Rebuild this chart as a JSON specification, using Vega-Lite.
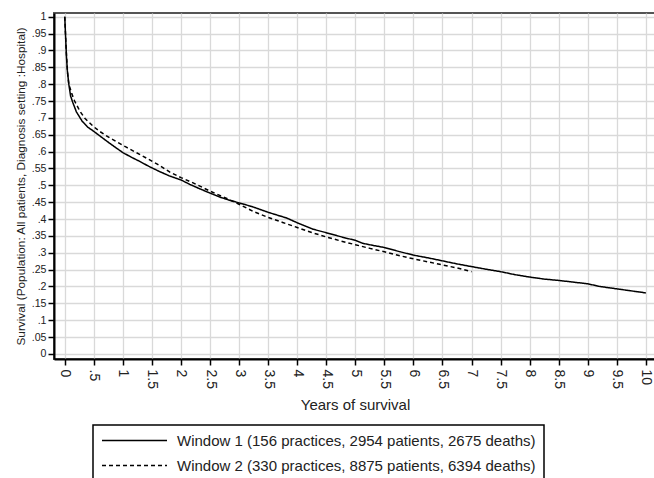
{
  "$schema": "https://vega.github.io/schema/vega-lite/v6.json",
  "autosize": {"type": "none"},
  "padding": {"left": 54, "top": 13, "right": 0, "bottom": 119},
  "width": 602,
  "height": 346,
  "background": "white",
  "config": {
    "font": "Liberation Sans",
    "view": {"stroke": "#555555", "strokeWidth": 2},
    "axis": {
      "domainColor": "black", "domainWidth": 2,
      "tickColor": "black", "tickWidth": 1.5, "tickSize": 6,
      "gridColor": "#d9d9d9", "gridWidth": 1.3,
      "labelColor": "#222222", "titleColor": "#222222",
      "labelFont": "Liberation Sans", "titleFont": "Liberation Sans",
      "titleFontWeight": "normal"
    },
    "legend": {"strokeWidth": 1.5}
  },
  "data": {"values": [
    {"t":0,"s":1,"series":"W1"},{"t":0.01,"s":0.96,"series":"W1"},{"t":0.02,"s":0.92,"series":"W1"},{"t":0.03,"s":0.88,"series":"W1"},{"t":0.045,"s":0.84,"series":"W1"},{"t":0.07,"s":0.80,"series":"W1"},{"t":0.1,"s":0.765,"series":"W1"},{"t":0.14,"s":0.745,"series":"W1"},{"t":0.2,"s":0.718,"series":"W1"},{"t":0.3,"s":0.69,"series":"W1"},{"t":0.4,"s":0.672,"series":"W1"},{"t":0.5,"s":0.66,"series":"W1"},{"t":0.6,"s":0.647,"series":"W1"},{"t":0.77,"s":0.625,"series":"W1"},{"t":1.0,"s":0.597,"series":"W1"},{"t":1.15,"s":0.583,"series":"W1"},{"t":1.29,"s":0.571,"series":"W1"},{"t":1.45,"s":0.556,"series":"W1"},{"t":1.63,"s":0.541,"series":"W1"},{"t":1.8,"s":0.528,"series":"W1"},{"t":2.0,"s":0.516,"series":"W1"},{"t":2.15,"s":0.503,"series":"W1"},{"t":2.32,"s":0.49,"series":"W1"},{"t":2.5,"s":0.477,"series":"W1"},{"t":2.67,"s":0.465,"series":"W1"},{"t":2.85,"s":0.455,"series":"W1"},{"t":3.0,"s":0.448,"series":"W1"},{"t":3.24,"s":0.436,"series":"W1"},{"t":3.5,"s":0.42,"series":"W1"},{"t":3.82,"s":0.403,"series":"W1"},{"t":4.0,"s":0.389,"series":"W1"},{"t":4.27,"s":0.37,"series":"W1"},{"t":4.49,"s":0.36,"series":"W1"},{"t":4.7,"s":0.35,"series":"W1"},{"t":4.85,"s":0.343,"series":"W1"},{"t":5.0,"s":0.337,"series":"W1"},{"t":5.13,"s":0.328,"series":"W1"},{"t":5.3,"s":0.322,"series":"W1"},{"t":5.49,"s":0.316,"series":"W1"},{"t":5.77,"s":0.303,"series":"W1"},{"t":6.0,"s":0.293,"series":"W1"},{"t":6.28,"s":0.284,"series":"W1"},{"t":6.5,"s":0.276,"series":"W1"},{"t":6.75,"s":0.267,"series":"W1"},{"t":7.0,"s":0.259,"series":"W1"},{"t":7.26,"s":0.251,"series":"W1"},{"t":7.5,"s":0.244,"series":"W1"},{"t":7.75,"s":0.235,"series":"W1"},{"t":8.0,"s":0.228,"series":"W1"},{"t":8.25,"s":0.222,"series":"W1"},{"t":8.5,"s":0.218,"series":"W1"},{"t":8.75,"s":0.213,"series":"W1"},{"t":9.0,"s":0.208,"series":"W1"},{"t":9.21,"s":0.2,"series":"W1"},{"t":9.5,"s":0.193,"series":"W1"},{"t":9.75,"s":0.187,"series":"W1"},{"t":10.0,"s":0.181,"series":"W1"},
    {"t":0,"s":1,"series":"W2"},{"t":0.01,"s":0.96,"series":"W2"},{"t":0.02,"s":0.92,"series":"W2"},{"t":0.035,"s":0.87,"series":"W2"},{"t":0.05,"s":0.83,"series":"W2"},{"t":0.07,"s":0.80,"series":"W2"},{"t":0.12,"s":0.772,"series":"W2"},{"t":0.17,"s":0.75,"series":"W2"},{"t":0.26,"s":0.72,"series":"W2"},{"t":0.35,"s":0.698,"series":"W2"},{"t":0.49,"s":0.675,"series":"W2"},{"t":0.6,"s":0.66,"series":"W2"},{"t":0.77,"s":0.641,"series":"W2"},{"t":1.06,"s":0.613,"series":"W2"},{"t":1.35,"s":0.586,"series":"W2"},{"t":1.6,"s":0.562,"series":"W2"},{"t":1.81,"s":0.539,"series":"W2"},{"t":2.0,"s":0.523,"series":"W2"},{"t":2.2,"s":0.508,"series":"W2"},{"t":2.5,"s":0.483,"series":"W2"},{"t":2.8,"s":0.46,"series":"W2"},{"t":3.0,"s":0.444,"series":"W2"},{"t":3.25,"s":0.422,"series":"W2"},{"t":3.5,"s":0.405,"series":"W2"},{"t":3.75,"s":0.39,"series":"W2"},{"t":4.0,"s":0.375,"series":"W2"},{"t":4.25,"s":0.36,"series":"W2"},{"t":4.5,"s":0.347,"series":"W2"},{"t":4.75,"s":0.335,"series":"W2"},{"t":5.0,"s":0.324,"series":"W2"},{"t":5.25,"s":0.313,"series":"W2"},{"t":5.5,"s":0.303,"series":"W2"},{"t":5.75,"s":0.292,"series":"W2"},{"t":6.0,"s":0.282,"series":"W2"},{"t":6.28,"s":0.272,"series":"W2"},{"t":6.5,"s":0.264,"series":"W2"},{"t":6.75,"s":0.255,"series":"W2"},{"t":7.0,"s":0.244,"series":"W2"}
  ]},
  "mark": {"type": "line", "color": "black", "strokeWidth": 1.5, "clip": true},
  "encoding": {
    "x": {
      "field": "t", "type": "quantitative",
      "scale": {"domain": [-0.185, 10.175], "nice": false, "zero": false},
      "axis": {
        "title": "Years of survival", "titleFontSize": 15, "titlePadding": 9,
        "values": [0,0.5,1,1.5,2,2.5,3,3.5,4,4.5,5,5.5,6,6.5,7,7.5,8,8.5,9,9.5,10],
        "labelAngle": 90, "labelFontSize": 14, "labelPadding": 4, "format": "~g",
        "labelExpr": "datum.value == 0.5 ? '.5' : datum.label",
        "labelOverlap": false
      }
    },
    "y": {
      "field": "s", "type": "quantitative",
      "scale": {"domain": [-0.015, 1.011], "nice": false, "zero": false},
      "axis": {
        "title": "Survival (Population: All patients, Diagnosis setting :Hospital)",
        "titleFontSize": 11.8, "titlePadding": 5,
        "values": [0,0.05,0.1,0.15,0.2,0.25,0.3,0.35,0.4,0.45,0.5,0.55,0.6,0.65,0.7,0.75,0.8,0.85,0.9,0.95,1],
        "labelFontSize": 10.6, "labelPadding": 2, "format": "~g",
        "labelExpr": "datum.value > 0 && datum.value < 1 ? replace(format(datum.value, '.2~f'), '0.', '.') : datum.label",
        "labelOverlap": false
      }
    },
    "strokeDash": {
      "field": "series", "type": "nominal",
      "scale": {"domain": ["W1", "W2"], "range": [[1, 0], [4, 3]]},
      "legend": {
        "title": null, "orient": "none", "legendX": 39, "legendY": 412,
        "strokeColor": "black", "padding": 8, "rowPadding": 9,
        "symbolType": "M-1,0H9", "symbolSize": 169, "symbolStrokeWidth": 1.5,
        "symbolStrokeColor": "black",
        "labelFontSize": 15, "labelColor": "#222222", "labelOffset": 61, "labelLimit": 700,
        "labelExpr": "datum.value == 'W1' ? 'Window 1 (156 practices, 2954 patients, 2675 deaths)\u00a0\u00a0\u00a0\u00a0\u00a0\u00a0' : 'Window 2 (330 practices, 8875 patients, 6394 deaths)\u00a0\u00a0\u00a0\u00a0\u00a0\u00a0'"
      }
    }
  }
}
